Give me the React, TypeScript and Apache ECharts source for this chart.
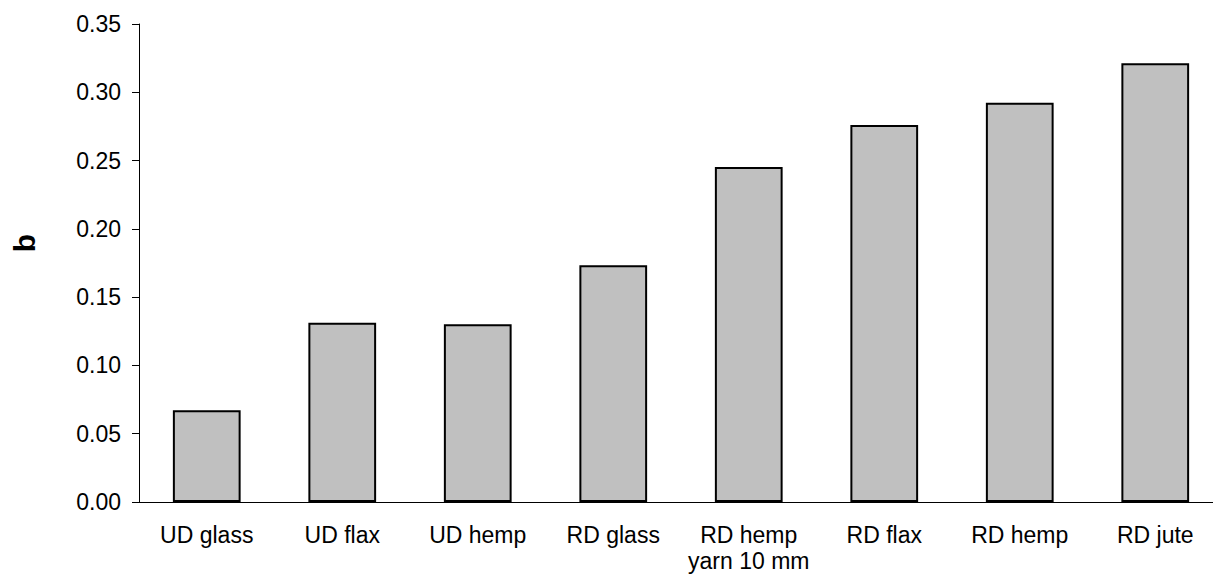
import React, { useEffect, useRef } from "react";
import * as echarts from "echarts";

const categories = ["UD glass", "UD flax", "UD hemp", "RD glass", "RD hemp\nyarn 10 mm", "RD flax", "RD hemp", "RD jute"];
const values = [0.0671, 0.1313, 0.1301, 0.1733, 0.2453, 0.276, 0.2924, 0.3212];
const yMin = 0;
const yMax = 0.35;
const yStep = 0.05;
const yName = "b";

export default function App() {
  const ref = useRef<HTMLDivElement>(null);
  useEffect(() => {
    if (!ref.current) return;
    const chart = echarts.init(ref.current, null, { renderer: "svg" });
    const font = "'Liberation Sans', Arial, sans-serif";
    chart.setOption({
      animation: false,
      backgroundColor: "#ffffff",
      grid: { left: 139, top: 24, bottom: 74, width: 1084, containLabel: false, outerBoundsMode: "none" },
      xAxis: {
        type: "category",
        data: categories,
        axisLine: { show: true, lineStyle: { color: "#000", width: 1 } },
        axisTick: { show: false },
        axisLabel: { color: "#000", fontSize: 23, fontFamily: font, margin: 20, lineHeight: 26, interval: 0 },
        splitLine: { show: false },
      },
      yAxis: {
        type: "value",
        min: yMin,
        max: yMax,
        interval: yStep,
        axisLine: { show: true, lineStyle: { color: "#000", width: 1 } },
        axisTick: { show: true, length: 7, lineStyle: { color: "#000" } },
        axisLabel: { color: "#000", fontSize: 23, fontFamily: font, margin: 18, formatter: (v: number) => v.toFixed(2) },
        splitLine: { show: false },
      },
      graphic: [
        {
          type: "text",
          x: 24,
          y: 243,
          rotation: Math.PI / 2,
          style: { text: yName, fontSize: 30, fontWeight: "bold", fontFamily: font, fill: "#000", align: "center", verticalAlign: "middle" },
        },
      ],
      series: [
        {
          type: "bar",
          data: values,
          barCategoryGap: "50%",
          itemStyle: { color: "#c0c0c0", borderColor: "#000", borderWidth: 2 },
        },
      ],
    });
    return () => chart.dispose();
  }, []);
  return <div ref={ref} style={{ position: "fixed", left: 0, top: 0, width: 1213, height: 576 }} />;
}
